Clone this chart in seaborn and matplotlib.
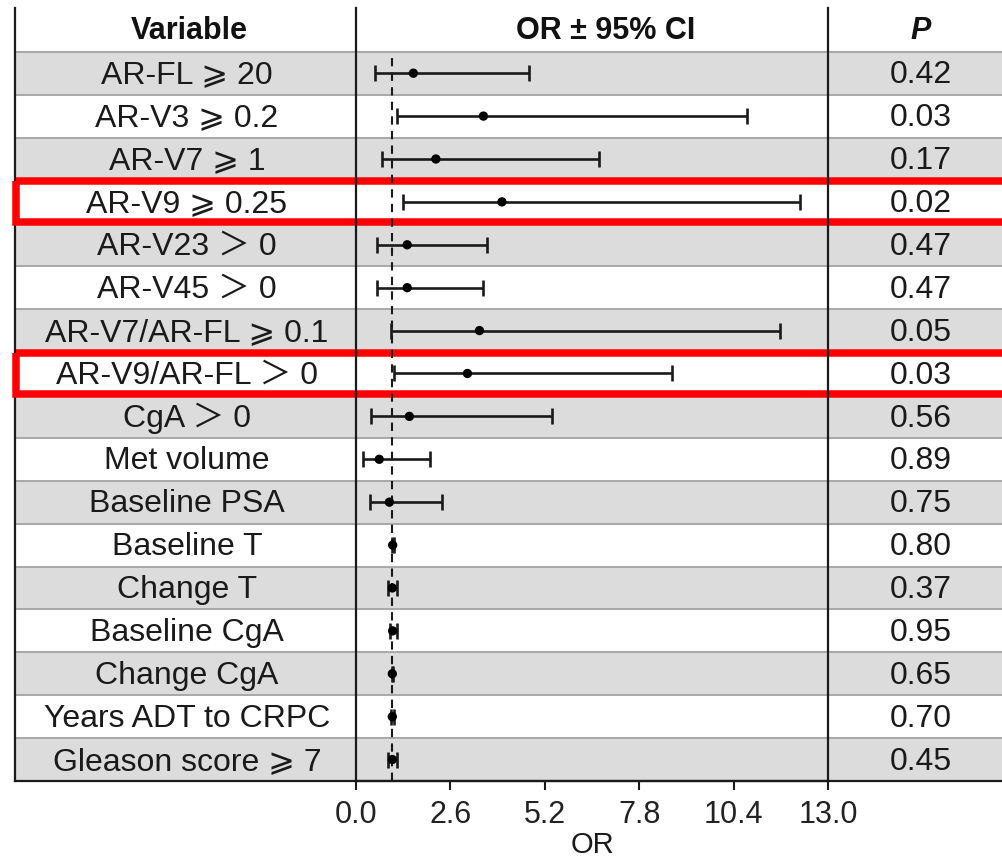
"""Forest plot of odds ratios with a variable / P-value table."""

import matplotlib

matplotlib.use("Agg")
import matplotlib.pyplot as plt
import numpy as np
import pandas as pd
import seaborn as sns
from matplotlib.patches import Rectangle

variables = [
    "AR-FL ⩾ 20",
    "AR-V3 ⩾ 0.2",
    "AR-V7 ⩾ 1",
    "AR-V9 ⩾ 0.25",
    "AR-V23 ＞ 0",
    "AR-V45 ＞ 0",
    "AR-V7/AR-FL ⩾ 0.1",
    "AR-V9/AR-FL ＞ 0",
    "CgA ＞ 0",
    "Met volume",
    "Baseline PSA",
    "Baseline T",
    "Change T",
    "Baseline CgA",
    "Change CgA",
    "Years ADT to CRPC",
    "Gleason score ⩾ 7",
]
odds_ratio = [1.58, 3.51, 2.20, 4.02, 1.41, 1.41, 3.40, 3.07, 1.47, 0.64, 0.92,
              1.01, 1.00, 1.01, 1.00, 1.00, 1.00]
ci_low = [0.52, 1.12, 0.71, 1.30, 0.57, 0.57, 0.96, 1.06, 0.41, 0.18, 0.39,
          0.98, 0.88, 0.93, 0.98, 0.97, 0.88]
ci_high = [4.77, 10.77, 6.68, 12.24, 3.60, 3.51, 11.67, 8.70, 5.39, 2.04, 2.36,
           1.04, 1.14, 1.12, 1.02, 1.04, 1.13]
p_values = ["0.42", "0.03", "0.17", "0.02", "0.47", "0.47", "0.05", "0.03", "0.56",
            "0.89", "0.75", "0.80", "0.37", "0.95", "0.65", "0.70", "0.45"]
highlight = ["AR-V9 ⩾ 0.25", "AR-V9/AR-FL ＞ 0"]
x_ticks = [0.0, 2.6, 5.2, 7.8, 10.4, 13.0]

df = pd.DataFrame({
    "variable": variables,
    "OR": odds_ratio,
    "low": ci_low,
    "high": ci_high,
    "P": p_values,
})
df["row"] = np.arange(len(df))

sns.set_theme(style="white")
plt.rcParams["font.family"] = ["Liberation Sans", "DejaVu Sans", "Noto Sans CJK SC"]

W, H = 1003, 867
fig = plt.figure(figsize=(W / 100, H / 100), dpi=100)

top_px, bottom_px = 8, 781
n = len(df)
row_top = -1.52  # header row sits above row 0
ylim = (n - 0.5, row_top)
ax_bottom = 1 - bottom_px / H
ax_height = (bottom_px - top_px) / H

# background table axes (pixel-like x coordinates)
bg = fig.add_axes([15 / W, ax_bottom, 1 - 15 / W, ax_height])
bg.set_xlim(15, W)
bg.set_ylim(*ylim)
for r in df["row"]:
    if r % 2 == 0:
        bg.axhspan(r - 0.5, r + 0.5, color="#dcdcdc", lw=0, zorder=0)
for y in np.arange(-0.5, n - 0.5):
    bg.axhline(y, color="#a8a8a8", lw=1.4, zorder=1)
bg.set_xticks([])
bg.set_yticks([])
for side in ["top", "right"]:
    bg.spines[side].set_visible(False)
for side in ["left", "bottom"]:
    bg.spines[side].set_color("#1a1a1a")
    bg.spines[side].set_linewidth(1.6)

txt_kw = dict(fontsize=23, color="#1a1a1a", ha="center", va="center")
for _, rec in df.iterrows():
    bg.text(187, rec["row"] + 0.05, rec["variable"], **txt_kw)
    bg.text(921, rec["row"] + 0.05, rec["P"], **txt_kw)

hdr_kw = dict(fontsize=22, fontweight="bold", ha="center", va="center",
              color="#111111")
hdr_y = (row_top - 0.5) / 2 + 0.02
bg.text(189, hdr_y, "Variable", **hdr_kw)
bg.text(606, hdr_y, "OR ± 95% CI", **hdr_kw)
bg.text(921, hdr_y, "P", fontstyle="italic", **hdr_kw)

for name in highlight:
    r = df.loc[df["variable"] == name, "row"].iloc[0]
    bg.add_patch(Rectangle((16.5, r - 0.48), W, 0.95, fill=False,
                           edgecolor="#ff0000", lw=5.4, clip_on=False, zorder=5))

# forest plot axes
ax = fig.add_axes([356 / W, ax_bottom, (828 - 356) / W, ax_height])
ax.set_facecolor("none")
ax.errorbar(df["OR"], df["row"],
            xerr=[df["OR"] - df["low"], df["high"] - df["OR"]],
            fmt="none", ecolor="#1a1a1a", elinewidth=1.9, capsize=5.5,
            capthick=1.9, zorder=3)
sns.scatterplot(data=df, x="OR", y="row", color="#000000", s=45,
                edgecolor="none", ax=ax, zorder=4, legend=False)
ax.vlines(1, -0.35, n - 0.5, colors="#1a1a1a", linestyles=(0, (4, 3)),
          lw=1.5, zorder=2)

ax.set_xlim(x_ticks[0], x_ticks[-1])
ax.set_ylim(*ylim)
ax.set_xticks(x_ticks)
ax.set_xticklabels([f"{t:.1f}" for t in x_ticks])
ax.set_yticks([])
ax.set_ylabel("")
ax.set_xlabel("OR", fontsize=21, color="#1a1a1a", labelpad=1)
ax.tick_params(axis="x", bottom=True, length=6.5, width=1.5, color="#1a1a1a",
               labelsize=22, labelcolor="#222222", pad=7)
ax.spines["top"].set_visible(False)
for side in ["left", "right", "bottom"]:
    ax.spines[side].set_color("#1a1a1a")
    ax.spines[side].set_linewidth(1.6)

fig.savefig("out.png", dpi=100)
